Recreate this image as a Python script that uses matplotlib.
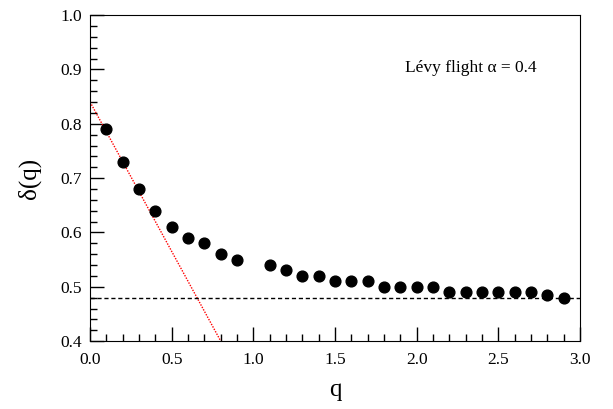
import numpy as np
import matplotlib.pyplot as plt
from matplotlib.ticker import MultipleLocator

plt.rcParams['font.family'] = ['Liberation Serif', 'DejaVu Serif']
plt.rcParams['mathtext.fontset'] = 'stix'

q = [0.1, 0.2, 0.3, 0.4, 0.5, 0.6, 0.7, 0.8, 0.9,
     1.1, 1.2, 1.3, 1.4, 1.5, 1.6, 1.7, 1.8, 1.9, 2.0,
     2.1, 2.2, 2.3, 2.4, 2.5, 2.6, 2.7, 2.8, 2.9]
delta = [0.79, 0.73, 0.68, 0.64, 0.61, 0.59, 0.58, 0.56, 0.55,
         0.54, 0.53, 0.52, 0.52, 0.51, 0.51, 0.51, 0.50, 0.50, 0.50,
         0.50, 0.49, 0.49, 0.49, 0.49, 0.49, 0.49, 0.485, 0.48]

# fits
fit_q = [0.0, 0.8]
fit_d = [0.84, 0.40]
asym_q = [0.0, 3.0]
asym_d = [0.48, 0.48]

fig = plt.figure(figsize=(6.13, 4.09), dpi=100)
ax = fig.add_axes([0.147, 0.166, 0.799, 0.797])

ax.plot(fit_q, fit_d, color='red', ls=(0, (1, 1)), lw=1.0)
ax.plot(asym_q, asym_d, color='black', ls=(0, (3, 2)), lw=1.0)
ax.scatter(q, delta, s=60, color='black', zorder=3)

ax.set_xlim(0, 3.0)
ax.set_ylim(0.4, 1.0)
ax.xaxis.set_major_locator(MultipleLocator(0.5))
ax.xaxis.set_minor_locator(MultipleLocator(0.1))
ax.yaxis.set_major_locator(MultipleLocator(0.1))
ax.yaxis.set_minor_locator(MultipleLocator(0.02))
ax.xaxis.set_major_formatter(lambda v, p: f'{v:.1f}')
ax.yaxis.set_major_formatter(lambda v, p: f'{v:.1f}')
ax.tick_params(which='both', direction='in', top=False, right=False, labelsize=12.5)
ax.tick_params(which='major', length=10, width=1)
ax.tick_params(which='minor', length=5, width=1)
ax.tick_params(axis='x', pad=8)
ax.tick_params(axis='y', pad=6)

ax.set_xlabel('q', fontsize=18, labelpad=8)
ax.set_ylabel('δ(q)', fontsize=18, labelpad=14)
ax.text(1.93, 0.895, 'Lévy flight α = 0.4', fontsize=12.5)

plt.savefig('out.png', dpi=100)
